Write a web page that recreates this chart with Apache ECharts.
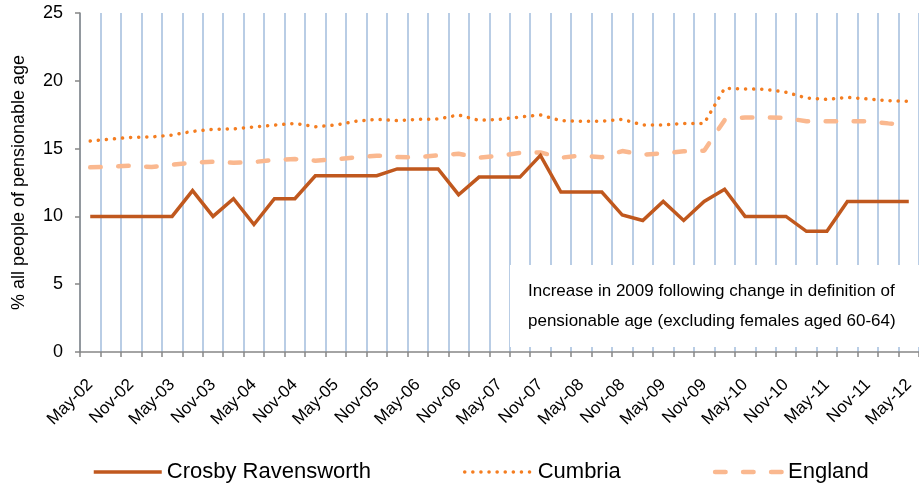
<!DOCTYPE html>
<html>
<head>
<meta charset="utf-8">
<script src="https://cdn.jsdelivr.net/npm/echarts@6/dist/echarts.min.js"></script>
<style>html,body{margin:0;padding:0;background:#fff}#c{width:919px;height:485px}</style>
</head>
<body>
<div id="c"></div>
<script>
var categories = ["May-02","Aug-02","Nov-02","Feb-03","May-03","Aug-03","Nov-03","Feb-04","May-04","Aug-04","Nov-04","Feb-05","May-05","Aug-05","Nov-05","Feb-06","May-06","Aug-06","Nov-06","Feb-07","May-07","Aug-07","Nov-07","Feb-08","May-08","Aug-08","Nov-08","Feb-09","May-09","Aug-09","Nov-09","Feb-10","May-10","Aug-10","Nov-10","Feb-11","May-11","Aug-11","Nov-11","Feb-12","May-12"];
var crosby = [10,10,10,10,10,11.9,10,11.3,9.4,11.3,11.3,13,13,13,13,13.5,13.5,13.5,11.6,12.9,12.9,12.9,14.5,11.8,11.8,11.8,10.1,9.7,11.1,9.7,11.1,12,10,10,10,8.9,8.9,11.1,11.1,11.1,11.1];
var cumbria = [15.56,15.7,15.83,15.86,16.0,16.27,16.42,16.45,16.6,16.73,16.86,16.61,16.74,17.02,17.16,17.06,17.16,17.18,17.48,17.08,17.16,17.33,17.48,17.06,17.01,17.02,17.16,16.74,16.74,16.86,16.86,19.45,19.4,19.37,19.16,18.73,18.63,18.78,18.66,18.53,18.49];
var england = [13.62,13.67,13.74,13.64,13.81,13.96,14.03,13.96,14.01,14.16,14.23,14.11,14.21,14.36,14.48,14.38,14.36,14.5,14.62,14.33,14.48,14.68,14.72,14.33,14.48,14.36,14.82,14.55,14.65,14.8,14.85,17.1,17.3,17.3,17.26,17.01,17.01,17.01,17.01,16.86,16.74];
var seriesNames = ["Crosby Ravensworth","Cumbria","England"];
var yTicks = {min:0, max:25, interval:5};
var yTitle = "% all people of pensionable age";
var noteLines = ["Increase in 2009 following change in definition of","pensionable age (excluding females aged 60-64)"];

var FONT = "Liberation Sans, Arial, sans-serif";
var styles = [
  {color:'#c0581e', width:3.5, type:'solid', cap:'butt'},
  {color:'#f47d20', width:3.5, type:[0.1,8], cap:'round'},
  {color:'#fab88f', width:4.5, type:[10.5,17.5], cap:'round'}
];
var chart = echarts.init(document.getElementById('c'), null, {renderer:'canvas'});
chart.setOption({
  animation:false,
  backgroundColor:'#ffffff',
  grid:{left:80, top:13, width:840.5, height:339, containLabel:false},
  legend:{
    data:seriesNames.map(function(n,i){
      return {name:n, itemStyle:{opacity:0, borderWidth:0}, lineStyle:{color:styles[i].color, width:styles[i].width, type:styles[i].type, cap:styles[i].cap}};
    }),
    left:87, top:456, itemWidth:68, itemHeight:14, itemGap:92,
    itemStyle:{opacity:0},
    textStyle:{fontFamily:FONT, fontSize:22, color:'#000'}
  },
  xAxis:{
    type:'category', data:categories, boundaryGap:true,
    axisLine:{lineStyle:{color:'#868686', width:1.5}},
    axisTick:{show:true, interval:0, length:5, lineStyle:{color:'#868686', width:1.5}},
    axisLabel:{interval:1, rotate:45, margin:30, fontFamily:FONT, fontSize:17, color:'#000'},
    splitLine:{show:true, interval:0, lineStyle:{color:'#b9cde5', width:2}}
  },
  yAxis:{
    type:'value', min:yTicks.min, max:yTicks.max, interval:yTicks.interval,
    name:yTitle, nameLocation:'middle', nameGap:52, nameRotate:90,
    nameTextStyle:{fontFamily:FONT, fontSize:18, color:'#000'},
    axisLine:{show:true, lineStyle:{color:'#868686', width:1.5}},
    axisTick:{show:true, length:5, lineStyle:{color:'#868686', width:1.5}},
    axisLabel:{margin:17, fontFamily:FONT, fontSize:18, color:'#000'},
    splitLine:{show:false}
  },
  series:[
    {name:seriesNames[0], type:'line', data:crosby, symbol:'none', z:5,
      lineStyle:{color:styles[0].color, width:styles[0].width, join:'miter'}, itemStyle:{color:styles[0].color}},
    {name:seriesNames[1], type:'line', data:cumbria, symbol:'none', z:4,
      lineStyle:{color:styles[1].color, width:styles[1].width, type:styles[1].type, cap:'round'}, itemStyle:{color:styles[1].color}},
    {name:seriesNames[2], type:'line', data:england, symbol:'none', z:3,
      lineStyle:{color:styles[2].color, width:styles[2].width, type:styles[2].type, cap:'round'}, itemStyle:{color:styles[2].color}}
  ],
  graphic:[
    {type:'rect', left:510, top:265, shape:{width:409, height:82}, style:{fill:'#ffffff'}, z:10},
    {type:'text', left:528, top:283, z:11, style:{text:noteLines[0], font:'17px '+FONT, fill:'#000'}},
    {type:'text', left:528, top:313, z:11, style:{text:noteLines[1], font:'17px '+FONT, fill:'#000'}}
  ]
});
</script>
</body>
</html>
